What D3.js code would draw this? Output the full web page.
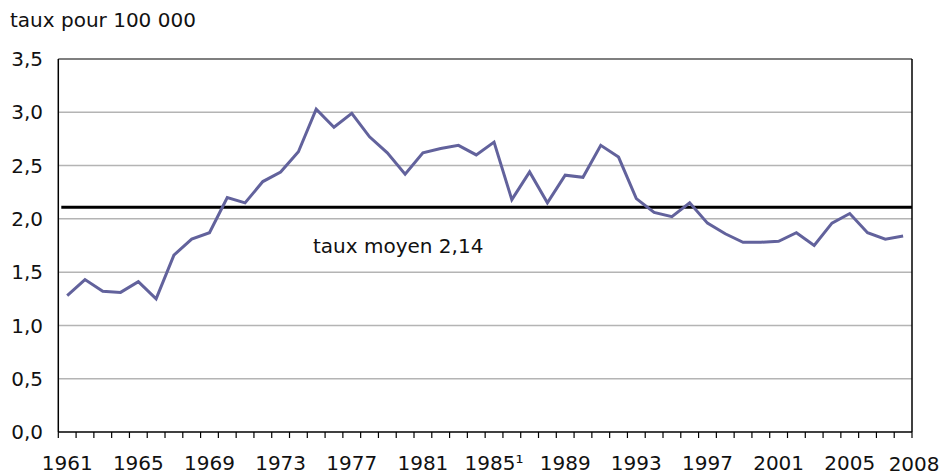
<!DOCTYPE html>
<html>
<head>
<meta charset="utf-8">
<script src="https://cdn.jsdelivr.net/npm/d3@7"></script>
<style>
  html, body { margin: 0; padding: 0; background: #fff; }
  svg text { font-family: "DejaVu Sans", Verdana, sans-serif; fill: #111; }
</style>
</head>
<body>
<svg id="chart" width="945" height="474"></svg>
<script>
const years = d3.range(1961, 2009);
const rates = [
  1.28, 1.43, 1.32, 1.31, 1.41, 1.25, 1.66, 1.81, 1.87, 2.20,
  2.15, 2.35, 2.44, 2.63, 3.03, 2.86, 2.99, 2.77, 2.62, 2.42,
  2.62, 2.66, 2.69, 2.60, 2.72, 2.18, 2.44, 2.15, 2.41, 2.39,
  2.69, 2.58, 2.19, 2.06, 2.02, 2.15, 1.96, 1.86, 1.78, 1.78,
  1.79, 1.87, 1.75, 1.96, 2.05, 1.87, 1.81, 1.84
];
const yTicks = [0, 0.5, 1.0, 1.5, 2.0, 2.5, 3.0, 3.5];
const xLabelYears = [1961, 1965, 1969, 1973, 1977, 1981, 1985, 1989, 1993, 1997, 2001, 2005];
const xLabelText = {1985: "1985\u00B9"};
const lastLabel = "2008";
const meanLineValue = 2.11;
const meanLabel = "taux moyen 2,14";
const yTitle = "taux pour 100 000";

const svg = d3.select("#chart");
const plotLeft = 58.3, plotRight = 912, plotTop = 59, plotBottom = 432;

const x = d3.scaleBand().domain(years).range([plotLeft, plotRight]).paddingInner(0).paddingOuter(0);
const y = d3.scaleLinear().domain([0, 3.5]).range([plotBottom, plotTop]);
const fmt = d3.formatLocale({decimal: ",", thousands: " ", grouping: [3], currency: ["", ""]}).format(".1f");
const cx = d => x(d) + x.bandwidth() / 2;

// gridlines
svg.append("g").selectAll("line")
  .data(yTicks.filter(v => v > 0 && v < 3.5))
  .join("line")
  .attr("x1", plotLeft).attr("x2", plotRight)
  .attr("y1", d => y(d)).attr("y2", d => y(d))
  .attr("stroke", "#b4b4b4").attr("stroke-width", 1.5);

// top border
svg.append("line")
  .attr("x1", plotLeft).attr("x2", plotRight)
  .attr("y1", y(3.5)).attr("y2", y(3.5))
  .attr("stroke", "#555").attr("stroke-width", 1.5);
// right border
svg.append("line")
  .attr("x1", plotRight).attr("x2", plotRight)
  .attr("y1", y(3.5)).attr("y2", y(0))
  .attr("stroke", "#000").attr("stroke-width", 1.5);

// y axis labels
svg.append("g").selectAll("text")
  .data(yTicks)
  .join("text")
  .attr("x", 43).attr("y", d => y(d))
  .attr("dy", "0.36em")
  .attr("text-anchor", "end")
  .attr("font-size", 20)
  .text(d => fmt(d));

// left axis
svg.append("line")
  .attr("x1", plotLeft).attr("x2", plotLeft)
  .attr("y1", y(3.5)).attr("y2", y(0))
  .attr("stroke", "#000").attr("stroke-width", 1.5);

// bottom axis
svg.append("line")
  .attr("x1", plotLeft).attr("x2", plotRight)
  .attr("y1", y(0)).attr("y2", y(0))
  .attr("stroke", "#000").attr("stroke-width", 1.5);

// ticks at category boundaries
const boundaries = years.map(d => x(d)).concat([plotRight]);
svg.append("g").selectAll("line")
  .data(boundaries)
  .join("line")
  .attr("x1", d => d).attr("x2", d => d)
  .attr("y1", y(0)).attr("y2", y(0) + 6)
  .attr("stroke", "#000").attr("stroke-width", 1.2);

// x labels
svg.append("g").selectAll("text")
  .data(xLabelYears)
  .join("text")
  .attr("x", d => cx(d)).attr("y", 470)
  .attr("text-anchor", "middle")
  .attr("font-size", 20)
  .text(d => xLabelText[d] || String(d));

svg.append("text")
  .attr("x", cx(2008) + 11).attr("y", 471)
  .attr("text-anchor", "middle")
  .attr("font-size", 20)
  .text(lastLabel);

// mean line
svg.append("line")
  .attr("x1", plotLeft + 3).attr("x2", plotRight)
  .attr("y1", y(meanLineValue)).attr("y2", y(meanLineValue))
  .attr("stroke", "#000").attr("stroke-width", 3);

// series line
const line = d3.line().x((d, i) => cx(years[i])).y(d => y(d));
svg.append("path")
  .datum(rates)
  .attr("d", line)
  .attr("fill", "none")
  .attr("stroke", "#62629c")
  .attr("stroke-width", 3)
  .attr("stroke-linejoin", "miter");

// annotations
svg.append("text")
  .attr("x", 313).attr("y", 253)
  .attr("font-size", 20)
  .text(meanLabel);

svg.append("text")
  .attr("x", 10).attr("y", 27)
  .attr("font-size", 20)
  .text(yTitle);
</script>
</body>
</html>
